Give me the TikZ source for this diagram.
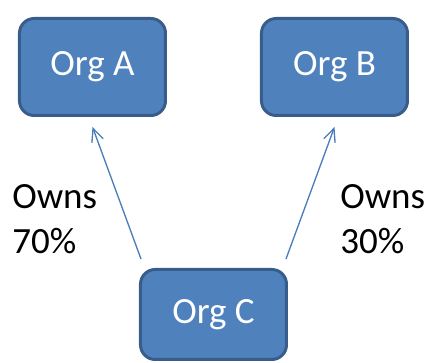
\documentclass[tikz,border=0pt]{standalone}
\usepackage{fontspec}
\setmainfont{Carlito}
\usetikzlibrary{arrows.meta,positioning,calc}
\definecolor{org-fill}{HTML}{4F81BD}
\definecolor{org-line}{HTML}{385D8A}
\definecolor{own-line}{HTML}{4A7EBB}

\begin{document}
\begin{tikzpicture}[
    x=0.75pt, y=-0.75pt,
    org/.style={rectangle, draw=org-line, fill=org-fill, line width=2.25pt, rounded corners=11pt,
                minimum width=109.5pt, minimum height=72.75pt, text=white,
                font=\fontsize{27.75}{33.75}\selectfont},
    share/.style={align=left, inner sep=0pt, anchor=north west,
                  font=\fontsize{27.75}{33.75}\selectfont},
    arrow/.style={-{Straight Barb[length=9.75pt,width=9pt]}, draw=own-line, line width=1pt}
]
  \useasboundingbox (0,0) rectangle (430,363);

  % Owned organisations
  \node[org] (orga) at (92.5,67) {Org A};
  \node[org, right=69.75pt of orga] (orgb) {Org B};

  % Owner
  \coordinate (mid) at ($(orga.south)!0.5!(orgb.south)$);
  \node[org, minimum height=67.5pt, below=113.25pt of mid] (orgc) {Org C};

  % Shares
  \node[share] (sharea) at (12,184) {Owns\\70\%};
  \node[share] (shareb) at (340,184) {Owns\\30\%};

  % Arrows
  \coordinate (taila) at ($(orgc.north west)+(2,-9)$);
  \coordinate (tailb) at ($(orgc.north east)+(-2,-9)$);
  \coordinate (tipa) at ($(orga.south)+(0,10)$);
  \coordinate (tipb) at ($(orgb.south)+(0,10)$);
  \draw[arrow] (taila) -- (tipa);
  \draw[arrow] (tailb) -- (tipb);

\end{tikzpicture}
\end{document}
